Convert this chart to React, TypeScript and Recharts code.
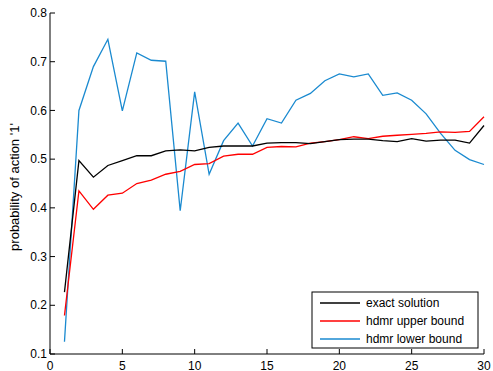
import { Line, LineChart, XAxis, YAxis } from "recharts";

const steps = [
  1, 2, 3, 4, 5, 6, 7, 8, 9, 10, 11, 12, 13, 14, 15, 16, 17, 18, 19, 20, 21,
  22, 23, 24, 25, 26, 27, 28, 29, 30,
];

const exactSolution = [
  0.227, 0.497, 0.463, 0.487, 0.497, 0.507, 0.507, 0.517, 0.519, 0.517, 0.524,
  0.527, 0.527, 0.527, 0.533, 0.534, 0.534, 0.532, 0.536, 0.54, 0.541, 0.541,
  0.538, 0.536, 0.542, 0.537, 0.539, 0.539, 0.533, 0.569,
];

const hdmrUpper = [
  0.179, 0.435, 0.397, 0.426, 0.43, 0.45, 0.457, 0.469, 0.475, 0.489, 0.491,
  0.506, 0.51, 0.51, 0.524, 0.526, 0.525, 0.533, 0.536, 0.54, 0.546, 0.542,
  0.547, 0.549, 0.551, 0.553, 0.556, 0.555, 0.557, 0.587,
];

const hdmrLower = [
  0.125, 0.6, 0.69, 0.746, 0.599, 0.718, 0.703, 0.701, 0.394, 0.638, 0.469,
  0.538, 0.574, 0.527, 0.583, 0.574, 0.621, 0.635, 0.661, 0.675, 0.669, 0.675,
  0.631, 0.636, 0.621, 0.593, 0.553, 0.518, 0.499, 0.489,
];

const xTicks = [0, 5, 10, 15, 20, 25, 30];
const yTicks = [0.1, 0.2, 0.3, 0.4, 0.5, 0.6, 0.7, 0.8];

const seriesNames = ["exact solution", "hdmr upper bound", "hdmr lower bound"];
const seriesColors = ["#000000", "#ff0000", "#1a8ad0"];

const data = steps.map((step, i) => ({
  step,
  exact: exactSolution[i],
  upper: hdmrUpper[i],
  lower: hdmrLower[i],
}));

const FONT = "'Liberation Sans', Arial, sans-serif";

function XTick({ x, y, payload }: any) {
  return (
    <g>
      <line x1={x} x2={x} y1={y} y2={y - 5} stroke="#000" strokeWidth={1} />
      <text
        x={x}
        y={y + 15.5}
        textAnchor="middle"
        fontSize={12}
        fontFamily={FONT}
        fill="#000"
      >
        {payload.value}
      </text>
    </g>
  );
}

function YTick({ x, y, payload }: any) {
  return (
    <g>
      <line x1={x} x2={x + 5} y1={y} y2={y} stroke="#000" strokeWidth={1} />
      <text
        x={x - 3}
        y={y}
        dy="0.35em"
        textAnchor="end"
        fontSize={12}
        fontFamily={FONT}
        fill="#000"
      >
        {Number(payload.value).toFixed(1)}
      </text>
    </g>
  );
}

function LegendBox() {
  const keys = ["exact", "upper", "lower"];
  return (
    <g fontFamily={FONT} fontSize={12}>
      <rect x={312} y={292} width={166} height={56} fill="#fff" stroke="#000" strokeWidth={1} />
      {keys.map((k, i) => (
        <g key={k}>
          <line
            x1={320}
            x2={360}
            y1={303 + i * 18}
            y2={303 + i * 18}
            stroke={seriesColors[i]}
            strokeWidth={1.3}
          />
          <text x={366} y={303 + i * 18} dy="0.35em" fill="#000">
            {seriesNames[i]}
          </text>
        </g>
      ))}
    </g>
  );
}

export default function App() {
  return (
    <div style={{ position: "absolute", left: 0, top: 0, width: 493, height: 371, background: "#fff" }}>
      <LineChart
        width={493}
        height={371}
        data={data}
        margin={{ top: 13, right: 9, left: 0, bottom: 0 }}
      >
        <XAxis
          dataKey="step"
          type="number"
          domain={[0, 30]}
          ticks={xTicks}
          height={17}
          tickSize={0}
          tickMargin={0}
          tickLine={false}
          axisLine={{ stroke: "#000" }}
          tick={<XTick />}
          interval={0}
        />
        <YAxis
          type="number"
          domain={[0.1, 0.8]}
          ticks={yTicks}
          width={50}
          tickSize={0}
          tickMargin={0}
          tickLine={false}
          axisLine={{ stroke: "#000" }}
          tick={<YTick />}
          interval={0}
        />
        <Line
          dataKey="lower"
          stroke={seriesColors[2]}
          strokeWidth={1.3}
          dot={false}
          isAnimationActive={false}
        />
        <Line
          dataKey="upper"
          stroke={seriesColors[1]}
          strokeWidth={1.3}
          dot={false}
          isAnimationActive={false}
        />
        <Line
          dataKey="exact"
          stroke={seriesColors[0]}
          strokeWidth={1.3}
          dot={false}
          isAnimationActive={false}
        />
        <text
          transform="translate(19, 187) rotate(-90)"
          textAnchor="middle"
          fontSize={13}
          fontFamily={FONT}
          fill="#000"
        >
          probability of action '1'
        </text>
        <LegendBox />
      </LineChart>
    </div>
  );
}
